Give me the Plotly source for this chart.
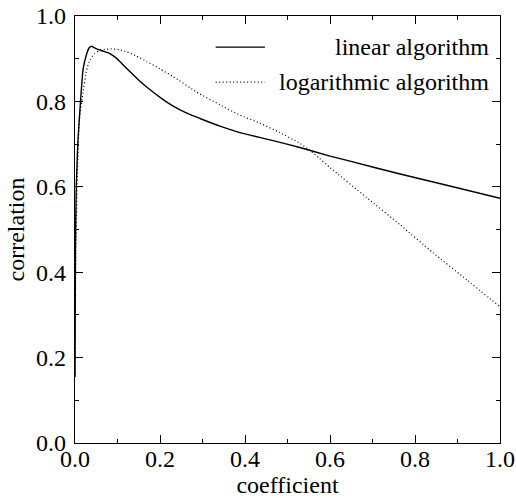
import plotly.graph_objects as go

# Correlation as a function of the coefficient for the two algorithms
linear_x = [0.0, 0.001, 0.003, 0.007, 0.013, 0.019, 0.027, 0.033, 0.038, 0.047, 0.054,
            0.068, 0.082, 0.095, 0.106, 0.129, 0.152, 0.176, 0.205, 0.231, 0.262,
            0.294, 0.341, 0.388, 0.459, 0.529, 0.6, 0.647, 0.765, 0.882, 1.0]
linear_y = [0.155, 0.45, 0.60, 0.71, 0.80, 0.875, 0.910, 0.925, 0.929, 0.925, 0.922,
            0.917, 0.912, 0.903, 0.893, 0.870, 0.848, 0.828, 0.806, 0.789, 0.773,
            0.760, 0.742, 0.727, 0.710, 0.692, 0.672, 0.660, 0.630, 0.602, 0.573]

log_x = [0.0, 0.002, 0.006, 0.011, 0.019, 0.027, 0.035, 0.046, 0.059, 0.07, 0.086,
         0.105, 0.122, 0.145, 0.169, 0.2, 0.231, 0.286, 0.341, 0.388, 0.435,
         0.482, 0.529, 0.553, 0.576, 0.6, 0.686, 0.765, 0.843, 0.922, 1.0]
log_y = [0.155, 0.45, 0.65, 0.764, 0.82, 0.872, 0.897, 0.912, 0.92, 0.922, 0.923,
         0.921, 0.916, 0.906, 0.893, 0.876, 0.858, 0.822, 0.792, 0.768, 0.749,
         0.727, 0.702, 0.685, 0.666, 0.645, 0.575, 0.511, 0.445, 0.382, 0.319]

series_names = ["linear algorithm", "logarithmic algorithm"]

FONT = "Liberation Serif"
FS = 24

fig = go.Figure()
fig.add_trace(go.Scatter(x=linear_x, y=linear_y, mode="lines", name=series_names[0],
                         line=dict(color="black", width=1.4, shape="spline", smoothing=0.5),
                         showlegend=False))
fig.add_trace(go.Scatter(x=log_x, y=log_y, mode="lines", name=series_names[1],
                         line=dict(color="black", width=1.2, dash="1px,2.5px",
                                   shape="spline", smoothing=0.5),
                         showlegend=False))

# Legend drawn by hand: sample line on the left, right-aligned label
legend_rows = [(0.927, "solid", 1.4), (0.845, "1px,2.5px", 1.2)]
for (ly, dash, w), name in zip(legend_rows, series_names):
    fig.add_shape(type="line", xref="paper", yref="paper", x0=0.331, x1=0.447, y0=ly, y1=ly,
                  line=dict(color="black", width=w, dash=dash))
    fig.add_annotation(xref="paper", yref="paper", x=0.978, y=ly, text=name, showarrow=False,
                       xanchor="right", yanchor="middle",
                       font=dict(family=FONT, size=FS, color="black"))

axis_common = dict(
    range=[0, 1.0], dtick=0.2, tick0=0, tickformat=".1f",
    showgrid=False, zeroline=False, automargin=False,
    showline=True, linecolor="black", linewidth=1.2, mirror="ticks",
    ticks="inside", ticklen=8, tickwidth=1.2, tickcolor="black",
    minor=dict(dtick=0.1, ticks="inside", ticklen=4, tickwidth=1, tickcolor="black"),
    tickfont=dict(family=FONT, size=FS, color="black"),
)

fig.update_xaxes(**axis_common, ticklabelstandoff=-6,
                 title=dict(text="coefficient", standoff=6,
                            font=dict(family=FONT, size=FS, color="black")))
fig.update_yaxes(**axis_common, ticklabelstandoff=3,
                 title=dict(text="correlation", standoff=4,
                            font=dict(family=FONT, size=FS, color="black")))

fig.update_layout(
    width=516, height=498,
    margin=dict(l=75, r=16, t=16, b=55),
    plot_bgcolor="white", paper_bgcolor="white",
    font=dict(family=FONT, color="black"),
)

fig.write_html("out.html")
